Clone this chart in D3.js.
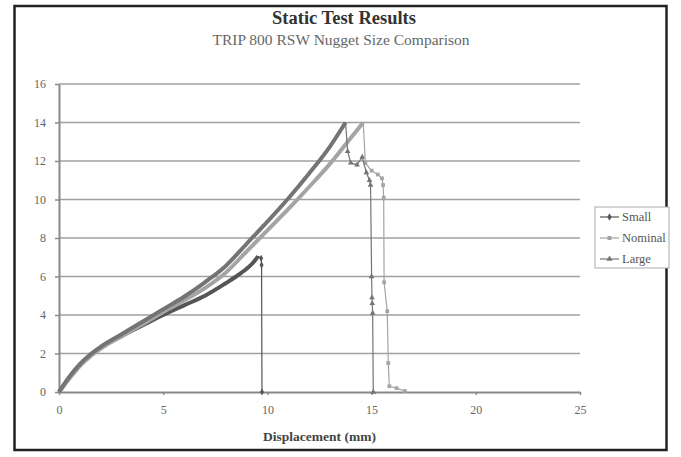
<!DOCTYPE html>
<html>
<head>
<meta charset="utf-8">
<script src="https://cdn.jsdelivr.net/npm/d3@7"></script>
<style>
  body { margin: 0; background: #fff; }
  text { font-family: "Liberation Serif", "DejaVu Serif", serif; }
</style>
</head>
<body>
<div id="chart"></div>
<script>
// displacement (mm) / load (kN)
var smallX = [0, 0.5, 1, 1.5, 2, 3, 4, 5, 6, 7, 8, 8.5, 9, 9.3, 9.55, 9.7, 9.72, 9.74];
var smallY = [0, 0.75, 1.4, 1.9, 2.3, 2.9, 3.45, 4.0, 4.5, 5.0, 5.65, 6.0, 6.4, 6.7, 7.05, 6.95, 6.6, 0];

var nominalX = [0, 0.5, 1, 1.5, 2, 3, 4, 5, 6, 7, 8, 9, 10, 11, 12, 13, 14, 14.6,
  14.7, 15.0, 15.3, 15.5, 15.55, 15.58, 15.6, 15.75, 15.8, 15.85, 16.2, 16.6];
var nominalY = [0, 0.7, 1.35, 1.85, 2.25, 2.9, 3.5, 4.15, 4.75, 5.4, 6.2, 7.3, 8.4, 9.5, 10.65, 11.85, 13.2, 14.0,
  11.9, 11.5, 11.3, 11.1, 10.75, 10.1, 5.7, 4.2, 1.5, 0.3, 0.2, 0.05];

var largeX = [0, 0.5, 1, 1.5, 2, 3, 4, 5, 6, 7, 8, 9, 10, 11, 12, 13, 13.75,
  13.85, 14.0, 14.3, 14.55, 14.75, 14.9, 14.95, 15.0, 15.02, 15.03, 15.05, 15.08];
var largeY = [0, 0.8, 1.45, 1.95, 2.35, 3.0, 3.65, 4.3, 4.95, 5.7, 6.55, 7.7, 8.85, 10.05, 11.35, 12.75, 14.0,
  12.5, 11.9, 11.8, 12.2, 11.4, 11.0, 10.75, 6.0, 4.9, 4.6, 4.1, 0];

// index of the peak: the rising part is drawn heavy (dense samples)
var smallPeak = 14, nominalPeak = 17, largePeak = 16;

var xTicks = [0, 5, 10, 15, 20, 25];
var yTicks = [0, 2, 4, 6, 8, 10, 12, 14, 16];

var titleText = "Static Test Results";
var subtitleText = "TRIP 800 RSW Nugget Size Comparison";
var xLabel = "Displacement (mm)";

var W = 681, H = 457;
var plotL = 59, plotR = 580, plotT = 84, plotB = 392;

var svg = d3.select("#chart").append("svg")
  .attr("width", W).attr("height", H);

svg.append("rect")
  .attr("x", 14.5).attr("y", 6).attr("width", 652).attr("height", 444)
  .attr("fill", "#fff").attr("stroke", "#222").attr("stroke-width", 2.5);

var x = d3.scaleLinear().domain([0, 25]).range([plotL, plotR]);
var y = d3.scaleLinear().domain([0, 16]).range([plotB, plotT]);

// gridlines
svg.append("g").selectAll("line")
  .data(yTicks.slice(1))
  .enter().append("line")
  .attr("x1", plotL).attr("x2", plotR)
  .attr("y1", d => y(d)).attr("y2", d => y(d))
  .attr("stroke", "#a0a0a0").attr("stroke-width", 1.5);

var xAxis = svg.append("g")
  .attr("transform", "translate(0," + plotB + ")")
  .call(d3.axisBottom(x).tickValues(xTicks).tickSize(3).tickSizeOuter(0).tickPadding(10));
var yAxis = svg.append("g")
  .attr("transform", "translate(" + plotL + ",0)")
  .call(d3.axisLeft(y).tickValues(yTicks).tickSize(4).tickSizeOuter(0).tickPadding(9));

[xAxis, yAxis].forEach(function(a) {
  a.select(".domain").attr("stroke", "#888").attr("stroke-width", 2);
  a.selectAll(".tick line").attr("stroke", "#888").attr("stroke-width", 1.5);
  a.selectAll(".tick text").attr("fill", "#666").style("font-size", "12px")
    .style("font-family", "Liberation Serif, serif");
});

var series = [
  {name: "Small", xs: smallX, ys: smallY, peak: smallPeak, color: "#555", shape: d3.symbolDiamond},
  {name: "Nominal", xs: nominalX, ys: nominalY, peak: nominalPeak, color: "#a4a4a4", shape: d3.symbolSquare},
  {name: "Large", xs: largeX, ys: largeY, peak: largePeak, color: "#747474", shape: d3.symbolTriangle}
];

var smooth = d3.line().x(d => x(d[0])).y(d => y(d[1])).curve(d3.curveMonotoneX);
var line = d3.line().x(d => x(d[0])).y(d => y(d[1]));

series.forEach(function(s) {
  var pts = s.xs.map((v, i) => [v, s.ys[i]]);
  var g = svg.append("g");
  // heavy rising part
  g.append("path")
    .attr("d", smooth(pts.slice(0, s.peak + 1)))
    .attr("fill", "none").attr("stroke", s.color)
    .attr("stroke-width", 4).attr("stroke-linejoin", "round");
  // thin failure part
  g.append("path")
    .attr("d", line(pts.slice(s.peak)))
    .attr("fill", "none").attr("stroke", s.color)
    .attr("stroke-width", 1.2);
  g.selectAll("path.m")
    .data(pts.slice(s.peak + 1))
    .enter().append("path")
    .attr("class", "m")
    .attr("transform", d => "translate(" + x(d[0]) + "," + y(d[1]) + ")")
    .attr("d", d3.symbol().type(s.shape).size(14))
    .attr("fill", s.color);
});

// titles
svg.append("text")
  .attr("x", 344).attr("y", 24).attr("text-anchor", "middle")
  .style("font-size", "18.5px").style("font-weight", "bold").attr("fill", "#333")
  .text(titleText);
svg.append("text")
  .attr("x", 341).attr("y", 45).attr("text-anchor", "middle")
  .style("font-size", "15.5px").attr("fill", "#666")
  .text(subtitleText);
svg.append("text")
  .attr("x", (plotL + plotR) / 2).attr("y", 441).attr("text-anchor", "middle")
  .style("font-size", "13.5px").style("font-weight", "bold").attr("fill", "#444")
  .text(xLabel);

// legend
var lg = svg.append("g").attr("transform", "translate(595,207)");
lg.append("rect").attr("width", 74).attr("height", 61)
  .attr("fill", "#fff").attr("stroke", "#aaa").attr("stroke-width", 1);
series.forEach(function(s, i) {
  var ly = 10 + i * 21;
  lg.append("line").attr("x1", 5).attr("x2", 24).attr("y1", ly).attr("y2", ly)
    .attr("stroke", s.color).attr("stroke-width", 1.2);
  lg.append("path").attr("transform", "translate(14.5," + ly + ")")
    .attr("d", d3.symbol().type(s.shape).size(16)).attr("fill", s.color);
  lg.append("text").attr("x", 27).attr("y", ly + 4)
    .style("font-size", "12.5px").attr("fill", "#555").text(s.name);
});
</script>
</body>
</html>
